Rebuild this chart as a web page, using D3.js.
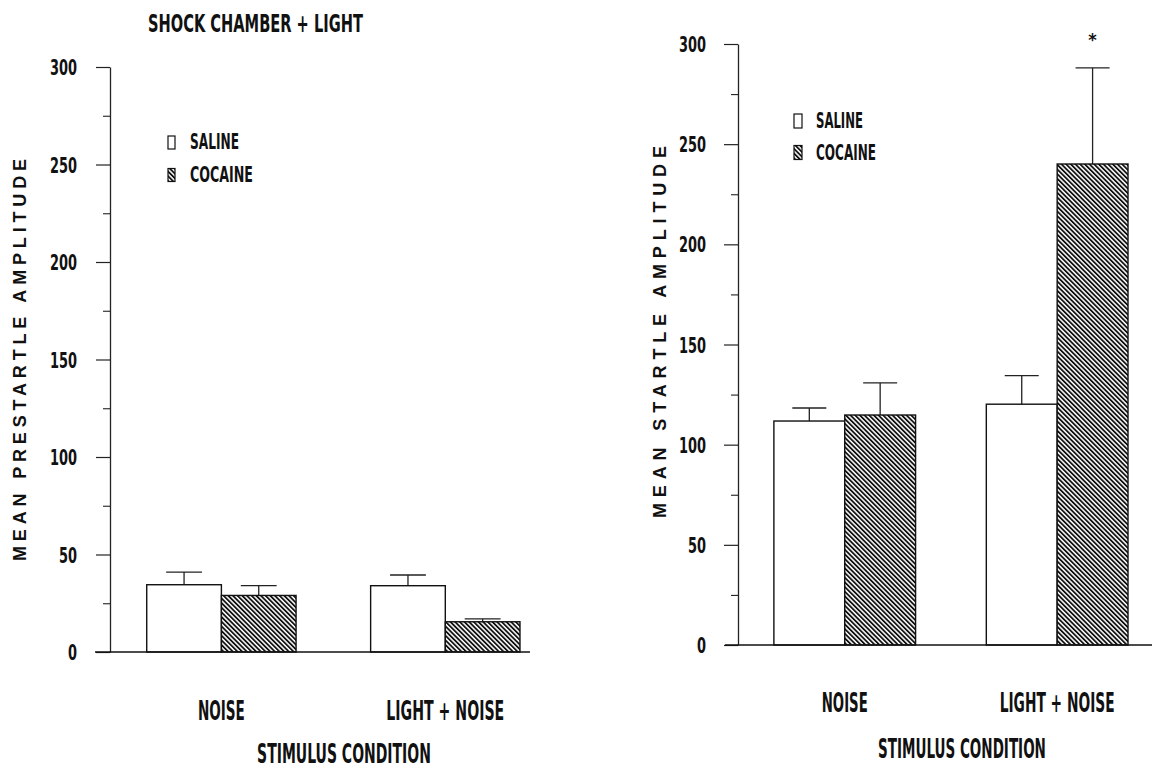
<!DOCTYPE html>
<html>
<head>
<meta charset="utf-8">
<script src="https://cdn.jsdelivr.net/npm/d3@7"></script>
<style>
  html, body { margin: 0; padding: 0; background: #fff; }
  svg { display: block; }
  .narrow { font-family: "Liberation Sans Narrow", "Arial Narrow", "DejaVu Sans Condensed", sans-serif; font-weight: bold; }
  .wide { font-family: "Liberation Sans", Arial, sans-serif; font-weight: bold; }
</style>
</head>
<body>
<svg id="chart" width="1157" height="769"></svg>
<script>
// ---------- data ----------
const conditions = ["NOISE", "LIGHT + NOISE"];
const groups = ["SALINE", "COCAINE"];
const yTicks = [0, 50, 100, 150, 200, 250, 300];
const yMinorTicks = [25, 75, 125, 175, 225, 275];

// Left panel: mean prestartle amplitude (shock chamber + light)
const prestartleSaline = [34.5, 34];
const prestartleSalineErr = [6.5, 5.5];
const prestartleCocaine = [29, 15.5];
const prestartleCocaineErr = [5, 1.5];

// Right panel: mean startle amplitude
const startleSaline = [111.8, 120.2];
const startleSalineErr = [6.5, 14.3];
const startleCocaine = [114.8, 240.1];
const startleCocaineErr = [16, 48];
const startleSignificant = [false, true];

const leftTitle = "SHOCK CHAMBER + LIGHT";
const leftYTitle = "MEAN PRESTARTLE AMPLITUDE";
const rightYTitle = "MEAN STARTLE AMPLITUDE";
const xTitle = "STIMULUS CONDITION";

// ---------- drawing ----------
const svg = d3.select("#chart");

// place a text at (x, y) and squeeze it horizontally to a target width
function fitText(parent, str, x, y, size, width, anchor) {
  const t = parent.append("text").attr("class", "narrow").attr("font-size", size)
    .attr("fill", "#111").attr("text-anchor", anchor || "start").text(str);
  const nat = t.node().getComputedTextLength() || width;
  const sx = width / nat;
  t.attr("transform", `translate(${x},${y}) scale(${sx},1)`);
  return t;
}

const defs = svg.append("defs");
const pat = defs.append("pattern")
  .attr("id", "hatch")
  .attr("patternUnits", "userSpaceOnUse")
  .attr("width", 3.3).attr("height", 3.3)
  .attr("patternTransform", "rotate(-45)");
pat.append("rect").attr("width", 3.3).attr("height", 3.3).attr("fill", "#fff");
pat.append("line").attr("x1", 0.9).attr("y1", 0).attr("x2", 0.9).attr("y2", 3.3)
  .attr("stroke", "#111").attr("stroke-width", 1.8);

const fills = { SALINE: "#fff", COCAINE: "url(#hatch)" };

function panel(cfg) {
  const g = svg.append("g");
  const y = d3.scaleLinear().domain([0, 300]).range([cfg.y0, cfg.y300]);
  const x = d3.scaleBand().domain(conditions)
    .range(cfg.xRange).paddingInner(0.333).paddingOuter(0.16);
  const xs = d3.scaleBand().domain(groups).range([0, x.bandwidth()]).padding(0);

  const data = [];
  conditions.forEach((c, i) => {
    data.push({ c, s: "SALINE", v: cfg.saline[i], e: cfg.salineErr[i], sig: false });
    data.push({ c, s: "COCAINE", v: cfg.cocaine[i], e: cfg.cocaineErr[i], sig: cfg.sig ? cfg.sig[i] : false });
  });

  // error bars
  const eb = g.append("g").attr("stroke", "#222").attr("stroke-width", 1.3);
  data.forEach(d => {
    const cx = x(d.c) + xs(d.s) + xs.bandwidth() / 2;
    const capW = xs.bandwidth() * 0.48;
    eb.append("line").attr("x1", cx).attr("x2", cx).attr("y1", y(d.v)).attr("y2", y(d.v + d.e));
    eb.append("line").attr("x1", cx - capW / 2).attr("x2", cx + capW / 2)
      .attr("y1", y(d.v + d.e)).attr("y2", y(d.v + d.e));
    if (d.sig) {
      g.append("text").attr("class", "narrow").attr("x", cx).attr("y", y(d.v + d.e) - 22)
        .attr("text-anchor", "middle").attr("font-size", 18).attr("fill", "#111").text("*");
    }
  });

  // bars
  g.append("g").selectAll("rect").data(data).join("rect")
    .attr("x", d => x(d.c) + xs(d.s))
    .attr("y", d => y(d.v))
    .attr("width", xs.bandwidth())
    .attr("height", d => y(0) - y(d.v))
    .attr("fill", d => fills[d.s])
    .attr("stroke", "#111").attr("stroke-width", 1.4);

  // y axis: major ticks
  const axMajor = g.append("g").attr("transform", `translate(${cfg.axisX},0)`)
    .call(d3.axisLeft(y).tickValues(yTicks).tickSize(14).tickSizeOuter(0).tickPadding(cfg.tickPad).tickFormat(d3.format("d")));
  axMajor.select(".domain").attr("stroke", "#222").attr("stroke-width", 1.3);
  axMajor.selectAll(".tick line").attr("stroke", "#222").attr("stroke-width", 1.2);
  axMajor.selectAll(".tick text")
    .attr("class", "narrow").attr("font-size", 21).attr("fill", "#111")
    .attr("dy", "0.36em")
    .attr("textLength", function() { return this.textContent.length * 9; })
    .attr("lengthAdjust", "spacingAndGlyphs");
  // minor ticks
  const axMinor = g.append("g").attr("transform", `translate(${cfg.axisX},0)`)
    .call(d3.axisLeft(y).tickValues(yMinorTicks).tickSize(7).tickFormat(""));
  axMinor.select(".domain").remove();
  axMinor.selectAll(".tick line").attr("stroke", "#222").attr("stroke-width", 1.1);

  // baseline
  g.append("line").attr("x1", cfg.baseX[0]).attr("x2", cfg.baseX[1])
    .attr("y1", y(0)).attr("y2", y(0)).attr("stroke", "#111").attr("stroke-width", 1.6);

  // category labels
  conditions.forEach((c, i) => {
    fitText(g, c, x(c) + x.bandwidth() / 2, cfg.catY, 26, cfg.catW[i], "middle");
  });

  // x title
  fitText(g, xTitle, cfg.xTitleX, cfg.xTitleY, 26, cfg.xTitleW, "middle");

  // y title
  g.append("text").attr("class", "wide").attr("font-size", 18).attr("fill", "#111")
    .attr("transform", `translate(${cfg.yTitleX},${cfg.yTitleY}) rotate(-90)`)
    .attr("text-anchor", "middle").attr("dy", "0.36em")
    .attr("textLength", cfg.yTitleLen).attr("lengthAdjust", "spacing")
    .text(cfg.yTitle);

  // legend
  const lg = g.append("g");
  groups.forEach((s, i) => {
    const ty = cfg.legY + i * cfg.legGap;
    lg.append("rect").attr("x", cfg.legX).attr("y", ty - cfg.boxH)
      .attr("width", cfg.boxW).attr("height", cfg.boxH)
      .attr("fill", fills[s]).attr("stroke", "#111").attr("stroke-width", 1.2);
    fitText(lg, s, cfg.legTextX, ty, 21, cfg.legW[i], "start");
  });
  return g;
}

panel({
  y0: 652, y300: 67, xRange: [110.9, 555.8], axisX: 110, tickPad: 19,
  saline: prestartleSaline, salineErr: prestartleSalineErr,
  cocaine: prestartleCocaine, cocaineErr: prestartleCocaineErr,
  baseX: [95, 530], catY: 720, catW: [47, 118],
  xTitleX: 344, xTitleY: 763, xTitleW: 174,
  yTitle: leftYTitle, yTitleX: 20, yTitleY: 360, yTitleLen: 402,
  legX: 168, legTextX: 190, legY: 149, legGap: 32.5, boxW: 7, boxH: 13, legW: [49, 63]
});

panel({
  y0: 645, y300: 44, xRange: [739.9, 1162], axisX: 738, tickPad: 18,
  saline: startleSaline, salineErr: startleSalineErr,
  cocaine: startleCocaine, cocaineErr: startleCocaineErr, sig: startleSignificant,
  baseX: [725, 1152], catY: 712, catW: [46, 115],
  xTitleX: 962, xTitleY: 758, xTitleW: 168,
  yTitle: rightYTitle, yTitleX: 660, yTitleY: 332, yTitleLen: 372,
  legX: 794, legTextX: 816, legY: 128, legGap: 31.5, boxW: 8, boxH: 14, legW: [47, 60]
});

// panel title
fitText(svg, leftTitle, 148, 32, 24, 215, "start");
</script>
</body>
</html>
